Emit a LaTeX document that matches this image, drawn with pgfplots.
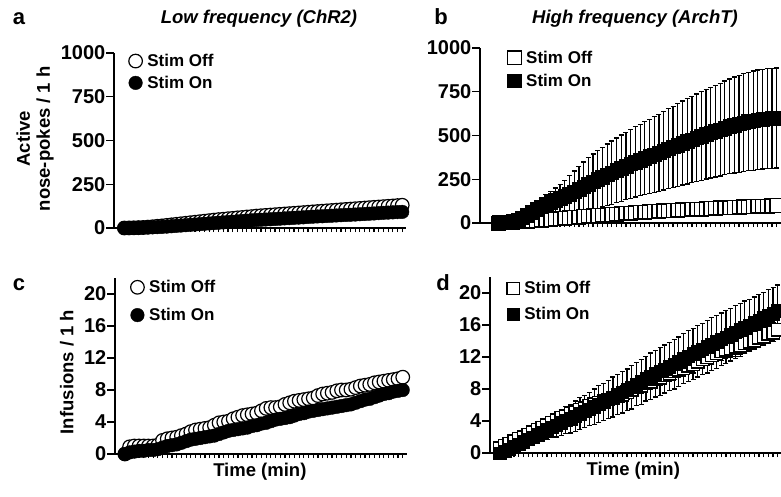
\documentclass[border=0pt]{standalone}
\usepackage{fontspec}
\setmainfont{Liberation Sans}
\usepackage{pgfplots}
\usepackage{pgfplotstable}
\pgfplotsset{compat=1.18}

% x = minute, off/offe = Stim Off mean/SEM, on/one = Stim On mean/SEM
\pgfplotstableread{
x off offe on one
1 0 2 0 1
2 0.5 2 0.5 1
3 1 2 1 1
4 2 2 1.5 1
5 3 3 2 1
6 5 3 3 1
7 7 3 4 2
8 10 4 5 2
9 12 4 6.5 2
10 15 5 8 2
11 18 5 10 2
12 21 6 12 3
13 24 6 14 3
14 27 7 16 3
15 30 7 18 4
16 33 8 20 4
17 36 8 22 4
18 39 9 24 5
19 42 10 26 5
20 45 10 28 5
21 48 11 30 6
22 50 11 32 6
23 53 12 34 6
24 55 12 36 6
25 58 12 38 7
26 60 13 40 7
27 63 13 42 7
28 65 14 44 8
29 68 14 45.5 8
30 70 15 47 8
31 72 15 48.5 8
32 74 15 50 9
33 76 16 51.5 9
34 78 16 53 9
35 80 16 55 9
36 82 17 56.5 9
37 84 17 58 10
38 86 17 59.5 10
39 88 18 61 10
40 90 18 63 10
41 92 19 64.5 11
42 94 19 66 11
43 96 19 67 11
44 98 20 68.5 11
45 100 20 70 12
46 102 20 71.5 12
47 104 21 73 12
48 106 21 74.5 12
49 108 21 75.5 12
50 110 22 77 13
51 112 22 78.5 13
52 114 22 80 13
53 116 23 81.5 13
54 118 23 83 13
55 120 24 85 14
56 122 24 86.5 14
57 124 24 88 14
58 126 25 89.5 14
59 128 25 91 15
60 130 25 92 15
}\tabA

\pgfplotstableread{
x off offe on one
1 0 1 3 3
2 1 1 5 4
3 2 2 8 5
4 4 2 13 7
5 6 3 20 10
6 8 4 30 15
7 10 4 46 22
8 12 5 63 30
9 14 6 79 40
10 16 7 93 48
11 18 7 106 56
12 20 8 118 63
13 23 9 130 70
14 25 10 141 80
15 27 10 153 92
16 30 11 166 105
17 32 12 179 118
18 34 13 193 130
19 37 14 208 141
20 39 15 222 151
21 41 15 236 158
22 43 16 249 165
23 45 17 262 171
24 47 17 275 176
25 49 18 288 181
26 51 19 301 185
27 53 20 314 189
28 55 20 326 193
29 57 21 338 197
30 59 22 349 201
31 61 22 360 205
32 62 23 370 209
33 64 23 380 213
34 66 24 391 216
35 67 24 402 220
36 69 25 413 224
37 70 25 424 228
38 72 26 435 232
39 73 27 446 236
40 75 27 457 240
41 76 28 467 244
42 78 28 477 247
43 79 29 487 250
44 80 29 497 253
45 82 30 507 256
46 83 30 516 259
47 84 30 525 262
48 86 31 534 265
49 87 31 543 268
50 88 32 552 271
51 89 32 560 274
52 91 33 567 277
53 92 33 574 279
54 93 34 580 281
55 94 34 585 283
56 95 34 590 284
57 96 35 594 285
58 97 35 597 286
59 98 35 599 286
60 100 36 600 286
}\tabB

\pgfplotstableread{
x off offe on one
1 0 0.1 0 0.1
2 0.9 0.3 0.2 0.1
3 1.0 0.3 0.3 0.2
4 1.0 0.3 0.4 0.2
5 1.0 0.3 0.4 0.2
6 1.0 0.3 0.5 0.2
7 1.0 0.3 0.5 0.2
8 1.1 0.3 0.6 0.3
9 1.7 0.4 0.8 0.3
10 1.9 0.4 1.0 0.3
11 2.0 0.4 1.1 0.3
12 2.1 0.4 1.2 0.3
13 2.3 0.4 1.4 0.3
14 2.5 0.4 1.6 0.4
15 2.8 0.4 1.8 0.4
16 3.0 0.4 1.9 0.4
17 3.1 0.4 2.0 0.4
18 3.2 0.4 2.1 0.4
19 3.3 0.4 2.2 0.4
20 3.6 0.5 2.3 0.4
21 3.9 0.5 2.5 0.4
22 4.0 0.5 2.7 0.4
23 4.1 0.5 2.9 0.4
24 4.4 0.5 3.0 0.4
25 4.6 0.5 3.1 0.5
26 4.8 0.5 3.2 0.5
27 4.9 0.5 3.3 0.5
28 5.0 0.5 3.5 0.5
29 5.1 0.5 3.6 0.5
30 5.4 0.5 3.8 0.5
31 5.7 0.5 3.9 0.5
32 5.8 0.5 4.1 0.5
33 5.8 0.5 4.3 0.5
34 5.9 0.5 4.4 0.5
35 6.2 0.5 4.5 0.5
36 6.4 0.6 4.6 0.5
37 6.6 0.6 4.8 0.5
38 6.7 0.6 5.0 0.5
39 6.8 0.6 5.1 0.5
40 6.9 0.6 5.3 0.5
41 7.0 0.6 5.4 0.6
42 7.3 0.6 5.5 0.6
43 7.5 0.6 5.6 0.6
44 7.6 0.6 5.7 0.6
45 7.7 0.6 5.8 0.6
46 7.9 0.6 5.9 0.6
47 8.0 0.6 6.0 0.6
48 8.0 0.6 6.1 0.6
49 8.1 0.6 6.2 0.6
50 8.3 0.6 6.4 0.6
51 8.5 0.6 6.6 0.6
52 8.6 0.6 6.8 0.6
53 8.7 0.6 6.9 0.6
54 8.9 0.6 7.1 0.6
55 9.0 0.6 7.3 0.6
56 9.1 0.6 7.5 0.6
57 9.2 0.6 7.6 0.6
58 9.3 0.6 7.8 0.6
59 9.4 0.6 7.9 0.6
60 9.6 0.6 8.0 0.6
}\tabC

\pgfplotstableread{
x off offe on one
1 0.6 0.3 0 0.1
2 0.9 0.3 0.2 0.2
3 1.2 0.3 0.5 0.3
4 1.5 0.4 0.8 0.4
5 1.8 0.4 1.1 0.5
6 2.0 0.4 1.4 0.6
7 2.3 0.4 1.7 0.7
8 2.6 0.5 2.0 0.8
9 2.9 0.5 2.3 0.9
10 3.2 0.5 2.6 1.0
11 3.5 0.6 2.9 1.2
12 3.8 0.6 3.2 1.3
13 4.1 0.6 3.5 1.5
14 4.4 0.6 3.8 1.6
15 4.6 0.7 4.1 1.7
16 4.9 0.7 4.3 1.8
17 5.1 0.7 4.6 1.9
18 5.4 0.7 4.9 2.0
19 5.6 0.7 5.2 2.0
20 5.9 0.8 5.5 2.1
21 6.1 0.8 5.8 2.2
22 6.3 0.8 6.1 2.3
23 6.5 0.8 6.4 2.3
24 6.7 0.8 6.7 2.4
25 6.9 0.8 7.0 2.5
26 7.1 0.9 7.3 2.5
27 7.3 0.9 7.6 2.6
28 7.6 0.9 7.9 2.6
29 7.9 0.9 8.2 2.7
30 8.2 0.9 8.6 2.7
31 8.4 0.9 8.9 2.8
32 8.7 0.9 9.3 2.8
33 8.9 0.9 9.6 2.9
34 9.2 1.0 9.9 2.9
35 9.4 1.0 10.2 3.0
36 9.7 1.0 10.5 3.0
37 9.9 1.0 10.8 3.0
38 10.2 1.0 11.1 3.1
39 10.4 1.0 11.4 3.1
40 10.6 1.0 11.8 3.1
41 10.9 1.0 12.1 3.2
42 11.1 1.1 12.4 3.2
43 11.4 1.1 12.7 3.2
44 11.7 1.1 13.0 3.2
45 12.0 1.1 13.3 3.3
46 12.2 1.1 13.6 3.3
47 12.5 1.1 13.9 3.3
48 12.7 1.1 14.2 3.3
49 12.9 1.1 14.5 3.3
50 13.1 1.1 14.8 3.3
51 13.3 1.2 15.1 3.3
52 13.5 1.2 15.4 3.3
53 13.7 1.2 15.7 3.3
54 13.9 1.2 16.0 3.2
55 14.1 1.2 16.3 3.2
56 14.4 1.2 16.6 3.2
57 14.6 1.2 16.9 3.2
58 14.9 1.2 17.2 3.2
59 15.1 1.2 17.5 3.2
60 15.4 1.2 17.8 3.2
}\tabD

\pgfplotsset{
  prism/.style={
    scale only axis, clip=false,
    axis x line=bottom, axis y line=left,
    axis line style={-, line width=1.2pt},
    every tick/.style={line width=1.2pt, black},
    tick align=outside,
    major tick length=8pt,
    xtick=\empty,
    extra x ticks={1,...,60}, extra x tick labels={},
    extra x tick style={major tick length=4pt, tick align=outside},
    ymin=0,
    /pgf/number format/assume math mode=true,
    /pgf/number format/1000 sep={},
    tick label style={font=\fontsize{20}{20}\selectfont\bfseries},
    yticklabel style={inner sep=0.5pt},
    legend style={draw=none, fill=none, inner sep=0pt,
      font=\fontsize{17}{17}\selectfont\bfseries, anchor=north west,
      /tikz/every odd column/.append style={column sep=3pt}},
    legend cell align=left,
  },
  ebars/.style={error bars/.cd, y dir=both, y explicit,
    error bar style={line width=1.2pt, black},
    error mark options={rotate=90, mark size=2.5pt, line width=1.2pt, black}},
  offc/.style={only marks, mark=*, mark size=6.8pt,
    mark options={draw=black, fill=white, line width=1.2pt}, ebars},
  onc/.style={only marks, mark=*, mark size=6.8pt,
    mark options={draw=black, fill=black}, ebars},
  offs/.style={only marks, mark=square*, mark size=#1,
    mark options={draw=black, fill=white, line width=1.4pt}, ebars},
  offs/.default=6.2pt,
  ons/.style={only marks, mark=square*, mark size=#1,
    mark options={draw=black, fill=black}, ebars},
  ons/.default=6.2pt,
}

\begin{document}
\begin{tikzpicture}
\path[use as bounding box] (0,0) rectangle (781pt,496pt);

% a
\begin{axis}[prism, at={(114pt,268pt)}, anchor=south west,
  width=292pt, height=175pt, xmin=-1.2, xmax=60.8, ymax=1000,
  ytick={0,250,500,750,1000},
  ylabel={Active\\nose-pokes / 1 h},
  ylabel style={align=center, font=\fontsize{18.5}{20}\selectfont\bfseries,
    at={(axis description cs:-0.27,0.51)}, anchor=center},
  legend style={at={(axis description cs:0.05,1.006)}, row sep=4pt}]
\addplot[offc] table[x=x, y=off, y error=offe] {\tabA};
\addplot[onc] table[x=x, y=on, y error=one] {\tabA};
\legend{Stim Off, Stim On}
\end{axis}

% b
\begin{axis}[prism, at={(480pt,273pt)}, anchor=south west,
  width=301.4pt, height=175pt, xmin=-3, xmax=61, ymax=1000,
  ytick={0,250,500,750,1000},
  legend style={at={(axis description cs:0.091,0.995)}, row sep=5pt}]
\addplot[offs=6.8pt] table[x=x, y=off, y error=offe] {\tabB};
\addplot[ons=6.8pt] table[x=x, y=on, y error=one] {\tabB};
\legend{Stim Off, Stim On}
\end{axis}

% c
\begin{axis}[prism, at={(115pt,42pt)}, anchor=south west,
  width=291.5pt, height=176pt, xmin=-1.1, xmax=60.8, ymax=22,
  ytick={0,4,...,20},
  ylabel={Infusions / 1 h},
  ylabel style={font=\fontsize{18.5}{20}\selectfont\bfseries,
    at={(axis description cs:-0.165,0.466)}, anchor=center},
  xlabel={Time (min)},
  xlabel style={font=\fontsize{18.5}{20}\selectfont\bfseries,
    at={(axis description cs:0.497,-0.1)}, anchor=center},
  legend style={at={(axis description cs:0.053,0.999)}, row sep=10pt}]
\addplot[offc] table[x=x, y=off, y error=offe] {\tabC};
\addplot[onc] table[x=x, y=on, y error=one] {\tabC};
\legend{Stim Off, Stim On}
\end{axis}

% d
\begin{axis}[prism, at={(490pt,43pt)}, anchor=south west,
  width=292.5pt, height=176pt, xmin=-1.1, xmax=61, ymax=22,
  ytick={0,4,...,20},
  xlabel={Time (min)},
  xlabel style={font=\fontsize{18.5}{20}\selectfont\bfseries,
    at={(axis description cs:0.49,-0.1)}, anchor=center},
  legend style={at={(axis description cs:0.057,0.987)}, row sep=8pt}]
\addplot[offs] table[x=x, y=off, y error=offe] {\tabD};
\addplot[ons] table[x=x, y=on, y error=one] {\tabD};
\legend{Stim Off, Stim On}
\end{axis}

\node[font=\fontsize{18.5}{18.5}\selectfont\bfseries\itshape] at (259pt,477pt) {Low frequency (ChR2)};
\node[font=\fontsize{18.5}{18.5}\selectfont\bfseries\itshape] at (635pt,477pt) {High frequency (ArchT)};
\node[font=\fontsize{22}{22}\selectfont\bfseries] at (19pt,477pt) {a};
\node[font=\fontsize{22}{22}\selectfont\bfseries] at (441pt,479pt) {b};
\node[font=\fontsize{22}{22}\selectfont\bfseries] at (19pt,211pt) {c};
\node[font=\fontsize{22}{22}\selectfont\bfseries] at (443pt,213pt) {d};
\end{tikzpicture}
\end{document}
